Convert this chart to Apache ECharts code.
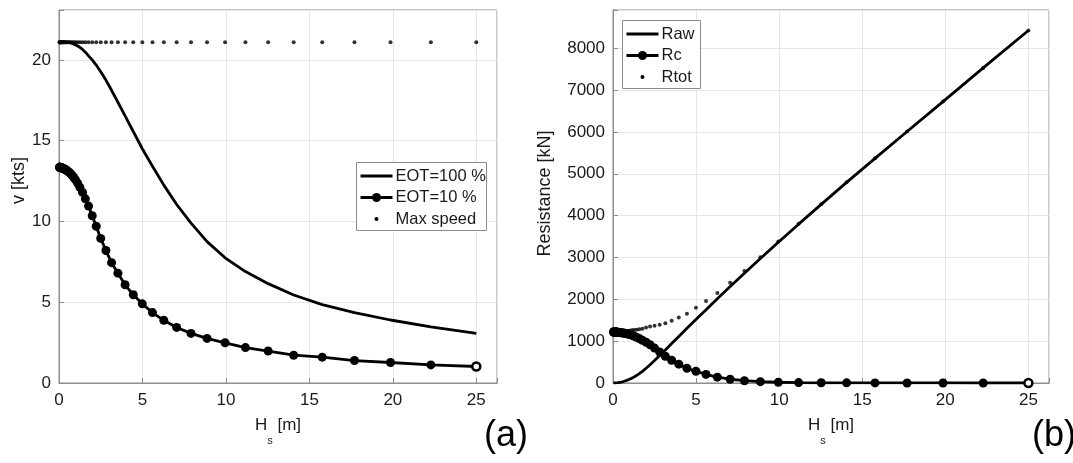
<!DOCTYPE html>
<html><head><meta charset="utf-8">
<script src="https://cdn.jsdelivr.net/npm/echarts@6/dist/echarts.min.js"></script>
<style>html,body{margin:0;padding:0;background:#fff}#c{width:1073px;height:463px}</style>
</head><body><div id="c"></div>
<script>
// ---- data ----
const hs = [0.03,0.04,0.05,0.06,0.07,0.08,0.09,0.10,0.11,0.13,0.14,0.16,0.18,0.20,0.22,0.25,0.28,0.31,0.35,0.40,0.44,0.50,0.56,0.63,0.70,0.79,0.89,0.99,1.12,1.25,1.41,1.58,1.77,1.99,2.23,2.50,2.81,3.15,3.53,3.96,4.45,4.99,5.60,6.28,7.05,7.91,8.87,9.95,11.17,12.53,14.06,15.77,17.70,19.86,22.28,25.00];
const v100 = [21.1,21.1,21.1,21.1,21.1,21.1,21.1,21.1,21.1,21.1,21.1,21.1,21.1,21.1,21.1,21.1,21.1,21.1,21.1,21.1,21.1,21.09,21.08,21.07,21.05,21.02,20.98,20.93,20.86,20.78,20.65,20.48,20.25,20.0,19.68,19.27,18.75,18.12,17.38,16.53,15.57,14.5,13.42,12.25,11.05,9.9,8.75,7.75,6.9,6.15,5.45,4.85,4.35,3.9,3.48,3.07];
const v10 = [13.35,13.35,13.35,13.35,13.35,13.34,13.34,13.34,13.33,13.33,13.32,13.32,13.31,13.3,13.29,13.28,13.27,13.25,13.23,13.2,13.17,13.13,13.08,13.02,12.95,12.85,12.72,12.57,12.37,12.12,11.8,11.4,10.95,10.35,9.7,8.95,8.2,7.45,6.8,6.08,5.46,4.9,4.36,3.88,3.44,3.07,2.76,2.49,2.19,1.98,1.72,1.6,1.39,1.27,1.12,1.02];
const vMax = [21.1,21.1,21.1,21.1,21.1,21.1,21.1,21.1,21.1,21.1,21.1,21.1,21.1,21.1,21.1,21.1,21.1,21.1,21.1,21.1,21.1,21.1,21.1,21.1,21.1,21.1,21.1,21.1,21.1,21.1,21.1,21.1,21.1,21.1,21.1,21.1,21.1,21.1,21.1,21.1,21.1,21.1,21.1,21.1,21.1,21.1,21.1,21.1,21.1,21.1,21.1,21.1,21.1,21.1,21.1,21.1];
const raw = [0,0,0,0,0,1,1,1,1,2,2,2,3,4,4,6,7,9,11,14,17,22,28,36,44,56,71,88,113,140,178,223,279,352,437,536,655,790,942,1113,1307,1518,1753,2013,2304,2624,2975,3364,3796,4269,4794,5370,6010,6725,7530,8424];
const rc = [1220,1220,1220,1220,1220,1220,1219,1219,1219,1218,1218,1217,1217,1216,1215,1214,1213,1211,1209,1207,1205,1202,1198,1194,1189,1182,1172,1160,1145,1124,1095,1062,1020,975,915,835,740,640,545,450,350,280,205,140,90,55,32,18,9,5,3,2,1,1,0,0];
const rtot = [1220,1220,1220,1220,1220,1221,1220,1220,1220,1220,1220,1219,1220,1220,1219,1220,1220,1220,1220,1221,1222,1224,1226,1230,1233,1238,1243,1248,1258,1264,1273,1285,1299,1327,1352,1371,1395,1430,1487,1563,1657,1798,1958,2153,2394,2679,3007,3382,3805,4274,4797,5372,6011,6726,7530,8424];
const xTickStep = 5;
const leftMax = 23.09, rightMax = 8915, xMax = 26.24;
const legendA = ['EOT=100 %', 'EOT=10 %', 'Max speed'];
const legendB = ['Raw', 'Rc', 'Rtot'];

// ---- styling ----
const FONT = '"Liberation Sans", Arial, sans-serif';
const TXT = '#1a1a1a', AX = '#8c8c8c', GRID = '#e6e6e6';
const LW = 2.8, MS = 9;

const pairs = ys => hs.map((x, i) => [x, ys[i]]);
const markerPairs = ys => hs.map((x, i) => i === hs.length - 1
  ? { value: [x, ys[i]], symbolSize: MS - 1, itemStyle: { color: '#fff', borderColor: '#000', borderWidth: 2.5 } }
  : [x, ys[i]]);

function xAxis(gi) {
  return {
    type: 'value', gridIndex: gi, min: 0, max: xMax, interval: xTickStep,
    name: '{a|H}{s|s}{a| [m]}', nameLocation: 'middle', nameGap: 34,
    nameTextStyle: { rich: {
      a: { fontSize: 17, fontFamily: FONT, color: TXT, lineHeight: 20, verticalAlign: 'top' },
      s: { fontSize: 11, fontFamily: FONT, color: TXT, lineHeight: 29, verticalAlign: 'bottom' } } },
    axisLine: { show: true, onZero: false, lineStyle: { color: AX, width: 1 } },
    axisTick: { show: true, inside: true, length: 5, lineStyle: { color: AX } },
    axisLabel: { color: TXT, fontSize: 17, fontFamily: FONT, margin: 9,
      formatter: v => (v % xTickStep === 0 ? String(v) : '') },
    splitLine: { show: true, lineStyle: { color: GRID, width: 1 } }
  };
}
function yAxis(gi, max, step, name, gap, pad) {
  return {
    type: 'value', gridIndex: gi, min: 0, max: max, interval: step,
    name: name, nameLocation: 'middle', nameGap: gap,
    nameTextStyle: { fontSize: 18, fontFamily: FONT, color: TXT, padding: pad },
    axisLine: { show: true, lineStyle: { color: AX, width: 1 } },
    axisTick: { show: true, inside: true, length: 5, lineStyle: { color: AX } },
    axisLabel: { color: TXT, fontSize: 17, fontFamily: FONT, margin: 8,
      formatter: v => (v % step === 0 ? String(v) : '') },
    splitLine: { show: true, lineStyle: { color: GRID, width: 1 } }
  };
}

function legendGroup(x, y, w, h, names, kinds) {
  const Z = 100;
  const children = [{ type: 'rect', z: Z, shape: { x: 0, y: 0, width: w, height: h },
    style: { fill: '#fff', stroke: AX, lineWidth: 1 } }];
  const rowY = [13.5, 35, 56.5];
  names.forEach((n, i) => {
    const cy = rowY[i];
    if (kinds[i] !== 'dot') {
      children.push({ type: 'line', z: Z + 1, shape: { x1: 4, y1: cy, x2: 36, y2: cy },
        style: { stroke: '#000', lineWidth: LW } });
    }
    if (kinds[i] === 'marker') {
      children.push({ type: 'circle', z: Z + 2, shape: { cx: 20, cy: cy, r: MS / 2 }, style: { fill: '#000' } });
    }
    if (kinds[i] === 'dot') {
      children.push({ type: 'circle', z: Z + 2, shape: { cx: 20, cy: cy, r: 2 }, style: { fill: '#000' } });
    }
    children.push({ type: 'text', z: Z + 2, x: 39, y: cy, style: { text: n, fontSize: 16.5, fontFamily: FONT,
      fill: TXT, verticalAlign: 'middle', align: 'left' } });
  });
  return { type: 'group', left: x, top: y, z: Z, children };
}

const chart = echarts.init(document.getElementById('c'), null, { renderer: 'canvas' });
chart.setOption({
  animation: false,
  backgroundColor: '#fff',
  grid: [
    { left: 59, top: 10, width: 438, height: 373, show: true, borderColor: AX, borderWidth: 1, backgroundColor: 'transparent' },
    { left: 613, top: 10, width: 436, height: 373, show: true, borderColor: AX, borderWidth: 1, backgroundColor: 'transparent' }
  ],
  xAxis: [xAxis(0), xAxis(1)],
  yAxis: [yAxis(0, leftMax, 5, 'v [kts]', 27, [0, 0, 0, 32]), yAxis(1, rightMax, 1000, 'Resistance [kN]', 59, [0, 0, 0, 6])],
  series: [
    { name: legendA[0], type: 'line', xAxisIndex: 0, yAxisIndex: 0, data: pairs(v100), symbol: 'none',
      lineStyle: { color: '#000', width: LW } },
    { name: legendA[1], type: 'line', xAxisIndex: 0, yAxisIndex: 0, data: markerPairs(v10), symbol: 'circle', symbolSize: MS,
      showAllSymbol: true, itemStyle: { color: '#000' }, lineStyle: { color: '#000', width: LW } },
    { name: legendA[2], type: 'scatter', xAxisIndex: 0, yAxisIndex: 0, data: pairs(vMax), symbol: 'circle', symbolSize: 4,
      itemStyle: { color: '#000' } },
    { name: legendB[0], type: 'line', xAxisIndex: 1, yAxisIndex: 1, data: pairs(raw), symbol: 'none',
      lineStyle: { color: '#000', width: LW } },
    { name: legendB[1], type: 'line', xAxisIndex: 1, yAxisIndex: 1, data: markerPairs(rc), symbol: 'circle', symbolSize: MS,
      showAllSymbol: true, itemStyle: { color: '#000' }, lineStyle: { color: '#000', width: LW } },
    { name: legendB[2], type: 'scatter', xAxisIndex: 1, yAxisIndex: 1, data: pairs(rtot), symbol: 'circle', symbolSize: 4,
      itemStyle: { color: '#000' } }
  ],
  graphic: [
    legendGroup(356, 162, 130, 68, legendA, ['line', 'marker', 'dot']),
    legendGroup(622, 20, 78, 68, legendB, ['line', 'marker', 'dot']),
    { type: 'text', left: 484, top: 418, z: 100, style: { text: '(a)', fontSize: 36, fontFamily: FONT, fill: '#000' } },
    { type: 'text', left: 1032, top: 418, z: 100, style: { text: '(b)', fontSize: 36, fontFamily: FONT, fill: '#000' } }
  ]
});
</script></body></html>
